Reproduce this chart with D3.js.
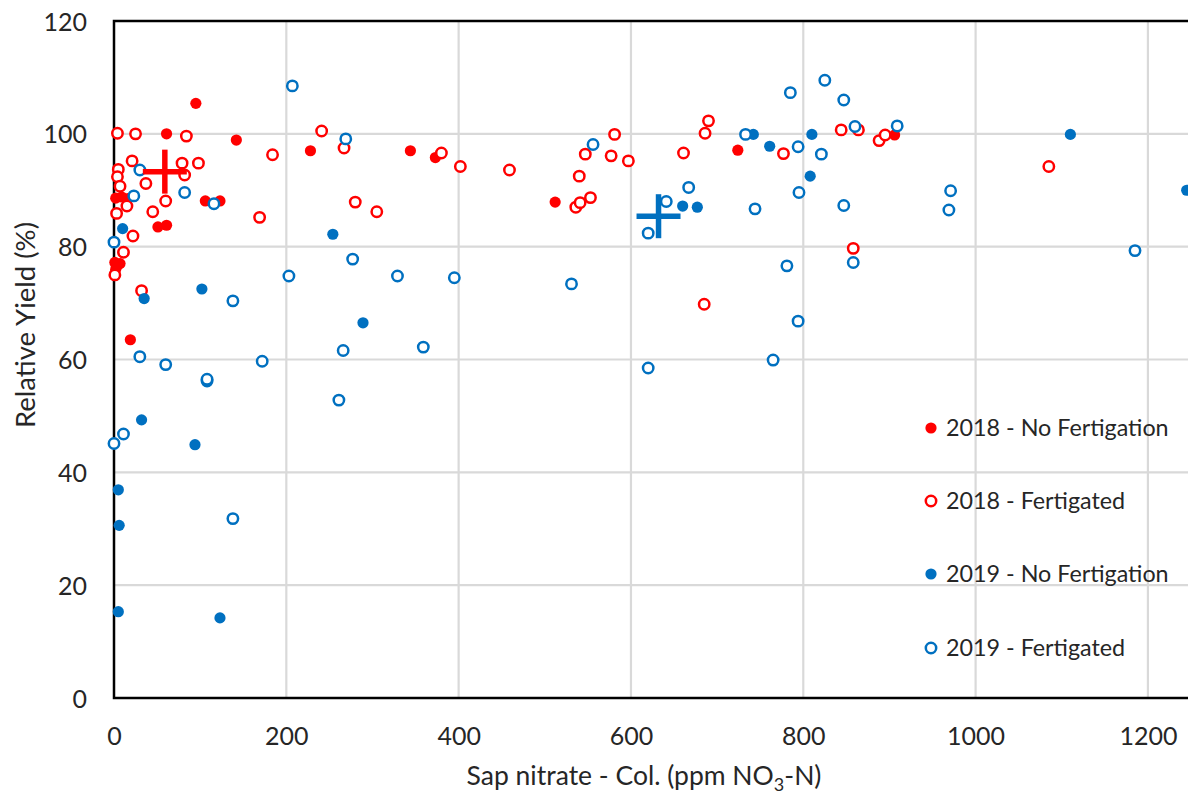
<!DOCTYPE html>
<html>
<head>
<meta charset="utf-8">
<script src="https://cdn.jsdelivr.net/npm/d3@7"></script>
<style>
  html, body { margin: 0; padding: 0; background: #fff; }
  svg { display: block; }
  text { font-family: Lato, "Open Sans", sans-serif; fill: #262626; }
</style>
</head>
<body>
<svg id="chart" width="1188" height="794"></svg>
<script>
// Sap nitrate (ppm NO3-N) vs. relative yield (%), one [x, y] pair per plot
const noFert2018 = [
  [95, 105.4], [61, 100], [142, 98.9], [228, 97], [344, 97], [373, 95.8],
  [512, 87.9], [724, 97.1], [906, 99.8], [106, 88.1], [123, 88.1],
  [51, 83.5], [61, 83.8], [19, 63.5],
  [2, 88.6], [9, 88.8], [16, 88.5],
  [1, 77.2], [3, 76.5], [7, 77], [2, 76]
];
const fert2018 = [
  [4, 100.1], [25, 100], [84, 99.6], [184, 96.3], [21, 95.2], [79, 94.8],
  [98, 94.8], [5, 93.7], [4, 92.4], [82, 92.7], [37, 91.2], [7, 90.7],
  [15, 87.2], [60, 88.1], [3, 85.9], [45, 86.2], [169, 85.2], [22, 81.9],
  [11, 79], [1, 75], [32, 72.2],
  [241, 100.5], [267, 97.5], [280, 87.9], [305, 86.2], [380, 96.6],
  [402, 94.2], [459, 93.6], [536, 87], [541, 87.8], [553, 88.7],
  [540, 92.5], [547, 96.4], [581, 99.9], [577, 96.1], [597, 95.2],
  [661, 96.6], [690, 102.3], [686, 100.1], [685, 69.8], [777, 96.5],
  [844, 100.7], [864, 100.7], [888, 98.8], [895, 99.8], [858, 79.7],
  [1085, 94.2]
];
const noFert2019 = [
  [10, 83.2], [35, 70.8], [102, 72.5], [32, 49.3], [94, 44.9],
  [5, 36.9], [6, 30.6], [5, 15.3], [123, 14.2], [254, 82.2], [289, 66.5],
  [660, 87.2], [677, 87], [742, 99.9], [761, 97.8], [810, 99.9],
  [808, 92.5], [1110, 99.9], [1245, 90]
];
const fert2019 = [
  [207, 108.5], [30, 93.6], [23, 89], [82, 89.6], [116, 87.6], [0, 80.8],
  [138, 70.4], [203, 74.8], [30, 60.5], [60, 59.1], [172, 59.7],
  [108, 56.2], [108, 56.5], [11, 46.8], [0, 45.1], [138, 31.8],
  [269, 99.1], [277, 77.8], [329, 74.8], [395, 74.5], [266, 61.6],
  [359, 62.2], [261, 52.8], [556, 98.1], [641, 88], [620, 82.4],
  [667, 90.5], [531, 73.4], [781, 76.6], [794, 66.8], [765, 59.9],
  [620, 58.5], [825, 109.5], [785, 107.3], [847, 106], [733, 99.9],
  [794, 97.7], [821, 96.4], [860, 101.3], [909, 101.4], [795, 89.6],
  [744, 86.7], [847, 87.3], [858, 77.2], [971, 89.9], [969, 86.5],
  [1185, 79.3]
];
// Seasonal means shown as large crosses
const means = [
  { year: "2018", x: 59, y: 93.3 },
  { year: "2019", x: 632, y: 85.4 }
];

const xTicks = [0, 200, 400, 600, 800, 1000, 1200];
const yTicks = [0, 20, 40, 60, 80, 100, 120];
const legendLabels = ["2018 - No Fertigation", "2018 - Fertigated", "2019 - No Fertigation", "2019 - Fertigated"];

const RED = "#FF0000", BLUE = "#0070C0";

const svg = d3.select("#chart");
const plot = { left: 114, top: 21, right: 1191, bottom: 698 };

const x = d3.scaleLinear().domain([0, 1250]).range([plot.left, plot.right]);
const y = d3.scaleLinear().domain([0, 120]).range([plot.bottom, plot.top]);

// Gridlines
const grid = svg.append("g");
grid.selectAll("line.v").data(xTicks.filter(d => d > 0)).join("line")
  .attr("x1", d => x(d)).attr("x2", d => x(d))
  .attr("y1", plot.top).attr("y2", plot.bottom)
  .attr("stroke", "#D9D9D9").attr("stroke-width", 2.2);
grid.selectAll("line.h").data(yTicks.filter(d => d > 0 && d < 120)).join("line")
  .attr("x1", plot.left).attr("x2", plot.right)
  .attr("y1", d => y(d)).attr("y2", d => y(d))
  .attr("stroke", "#D9D9D9").attr("stroke-width", 2.2);

// Plot frame
svg.append("rect")
  .attr("x", plot.left).attr("y", plot.top)
  .attr("width", plot.right - plot.left).attr("height", plot.bottom - plot.top)
  .attr("fill", "none").attr("stroke", "#000").attr("stroke-width", 2.5);

// Tick labels via d3 axes (domain and tick marks hidden)
const xAxis = svg.append("g")
  .attr("transform", `translate(0,${plot.bottom})`)
  .call(d3.axisBottom(x).tickValues(xTicks).tickFormat(d3.format("d")).tickSize(0));
xAxis.select(".domain").remove();
xAxis.selectAll("text")
  .attr("y", 47).attr("dy", null)
  .attr("font-size", 25).attr("font-family", "Lato").attr("fill", "#262626");

const yAxis = svg.append("g")
  .attr("transform", `translate(${plot.left},0)`)
  .call(d3.axisLeft(y).tickValues(yTicks).tickFormat(d3.format("d")).tickSize(0));
yAxis.select(".domain").remove();
yAxis.selectAll("text")
  .attr("x", -27).attr("dy", "0.36em")
  .attr("font-size", 25).attr("font-family", "Lato").attr("fill", "#262626");

// Axis titles
const xt = svg.append("text")
  .attr("x", 644).attr("y", 785)
  .attr("text-anchor", "middle").attr("font-size", 26.5);
xt.append("tspan").text("Sap nitrate - Col. (ppm NO");
xt.append("tspan").text("3").attr("font-size", 18).attr("dy", 6);
xt.append("tspan").text("-N)").attr("dy", -6);

svg.append("text")
  .attr("transform", "translate(35,325) rotate(-90)")
  .attr("text-anchor", "middle").attr("font-size", 27.5)
  .text("Relative Yield (%)");

// Scatter series
const series = [
  { data: noFert2018, color: RED, filled: true },
  { data: fert2018, color: RED, filled: false },
  { data: noFert2019, color: BLUE, filled: true },
  { data: fert2019, color: BLUE, filled: false }
];

svg.append("clipPath").attr("id", "plotClip")
  .append("rect").attr("x", plot.left - 10).attr("y", plot.top - 10)
  .attr("width", plot.right - plot.left + 20).attr("height", plot.bottom - plot.top + 20);

const marks = svg.append("g").attr("clip-path", "url(#plotClip)");

function drawMarker(sel, s) {
  if (s.filled) {
    sel.attr("r", 5.6).attr("fill", s.color).attr("stroke", "none");
  } else {
    sel.attr("r", 5.2).attr("fill", "#fff").attr("stroke", s.color).attr("stroke-width", 2.5);
  }
}

series.forEach(s => {
  marks.append("g").selectAll("circle").data(s.data).join("circle")
    .attr("cx", d => x(d[0])).attr("cy", d => y(d[1]))
    .call(drawMarker, s);
});

// Mean crosses
const half = 22;
means.forEach(m => {
  const c = m.year === "2018" ? RED : BLUE;
  const g = marks.append("g").attr("stroke", c).attr("stroke-width", 5.5);
  g.append("line").attr("x1", x(m.x) - half).attr("x2", x(m.x) + half)
    .attr("y1", y(m.y)).attr("y2", y(m.y));
  g.append("line").attr("x1", x(m.x)).attr("x2", x(m.x))
    .attr("y1", y(m.y) - half).attr("y2", y(m.y) + half);
});

// Legend
const legendY = [428, 501, 574, 648];
const legend = svg.append("g");
series.forEach((s, i) => {
  legend.append("circle").attr("cx", 931).attr("cy", legendY[i]).call(drawMarker, s);
  legend.append("text").attr("x", 946).attr("y", legendY[i]).attr("dy", "0.36em")
    .attr("font-size", 23.3).text(legendLabels[i]);
});
</script>
</body>
</html>
